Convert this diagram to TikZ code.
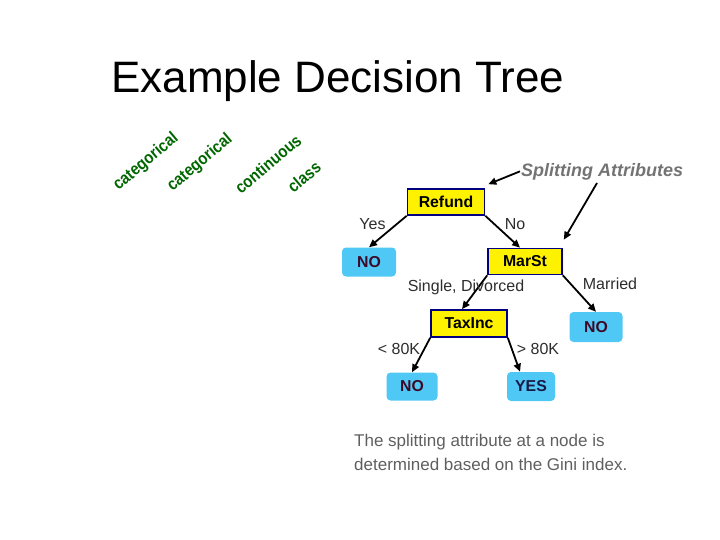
\documentclass[tikz,border=0pt]{standalone}
\usepackage{fontspec}
\usepackage{graphicx}
\setmainfont{Liberation Sans}
\usetikzlibrary{arrows.meta,calc}
\definecolor{navyb}{RGB}{0,0,128}
\definecolor{cyanbox}{RGB}{80,200,245}
\definecolor{dgreen}{RGB}{0,102,0}
\definecolor{notext}{RGB}{60,10,40}
\definecolor{yestext}{RGB}{25,25,70}
\definecolor{labgray}{RGB}{45,45,45}
\definecolor{attgray}{RGB}{115,115,115}
\definecolor{notegray}{RGB}{95,95,95}
\newcommand{\narrowtxt}[1]{\scalebox{0.88}[1]{#1}}
\tikzset{
  attrbox/.style={draw=navyb, line width=1.6pt, fill=yellow, inner sep=0pt,
    font=\fontsize{15.8}{18}\selectfont\bfseries},
  leafbox/.style={fill=cyanbox, rounded corners=4pt, inner sep=0pt,
    font=\fontsize{15.8}{18}\selectfont\bfseries},
  edge/.style={line width=1.8pt, -{Triangle[length=8pt,width=7pt]}},
  elabel/.style={text=labgray, inner sep=0pt, font=\fontsize{16}{18}\selectfont},
  greenlab/.style={text=dgreen, rotate=40, inner sep=0pt, font=\fontsize{17}{19}\selectfont\bfseries},
}
\begin{document}
\begin{tikzpicture}[x=1pt,y=-1pt]
\useasboundingbox (0,0) rectangle (720,540);
\node[anchor=base west, inner sep=0pt, font=\fontsize{44}{50}\selectfont] (title) at (111,93) {Example Decision Tree};

\node[greenlab] (g1) at (146,162) {\narrowtxt{categorical}};
\node[greenlab] (g2) at (200,163) {\narrowtxt{categorical}};
\node[greenlab] (g3) at (268,164) {\narrowtxt{continuous}};
\node[greenlab] (g4) at (304,177) {\narrowtxt{class}};

\node[attrbox, minimum width=77pt, minimum height=26pt] (refund) at (446,202) {Refund};
\node[leafbox, minimum width=54pt, minimum height=29pt, text=notext] (no1) at (369,262) {NO};
\node[attrbox, minimum width=74pt, minimum height=26pt] (marst) at (525,261.5) {MarSt};
\node[attrbox, minimum width=76pt, minimum height=27pt] (taxinc) at (469,323.5) {TaxInc};
\node[leafbox, minimum width=53pt, minimum height=30pt, text=notext] (no2) at (596,327) {NO};
\node[leafbox, minimum width=51pt, minimum height=28pt, text=notext] (no3) at (412,386.5) {NO};
\node[leafbox, minimum width=48pt, minimum height=29pt, text=yestext] (yes) at (531,386.5) {YES};

\draw[edge] (refund.south west) -- (no1.north);
\draw[edge] (refund.south east) -- ($(marst.north)+(-5,0)$);
\draw[edge] (marst.south west) -- ($(taxinc.north)+(-7,0)$);
\draw[edge] (marst.south east) -- (no2.north);
\draw[edge] (taxinc.south west) -- (no3.north);
\draw[edge] (taxinc.south east) -- ($(yes.north)+(-11,0)$);

\node[elabel] (lyes) at (372.5,224) {Yes};
\node[elabel] (lno) at (515,224) {No};
\node[elabel] (lsd) at (466,287) {Single, Divorced};
\node[elabel] (lmar) at (610,284) {Married};
\node[elabel] (llt) at (399,349) {< 80K};
\node[elabel] (lgt) at (538,349) {> 80K};

\node[anchor=base west, inner sep=0pt, text=attgray, font=\fontsize{18}{20}\selectfont\bfseries\itshape] (split) at (521,177) {Splitting Attributes};
\coordinate (s1) at ($(split.west)+(-1,-1)$);
\coordinate (s2) at ($(split.base west)+(76,6)$);
\draw[edge] (s1) -- ($(refund.north east)+(3,-4)$);
\draw[edge] (s2) -- ($(marst.north east)+(1,-8)$);

\node[anchor=base west, inner sep=0pt, text=notegray, font=\fontsize{17}{20}\selectfont] (note1) at (354,446) {The splitting attribute at a node is};
\node[anchor=base west, inner sep=0pt, text=notegray, font=\fontsize{17}{20}\selectfont] (note2) at (354,470) {determined based on the Gini index.};
\end{tikzpicture}
\end{document}
